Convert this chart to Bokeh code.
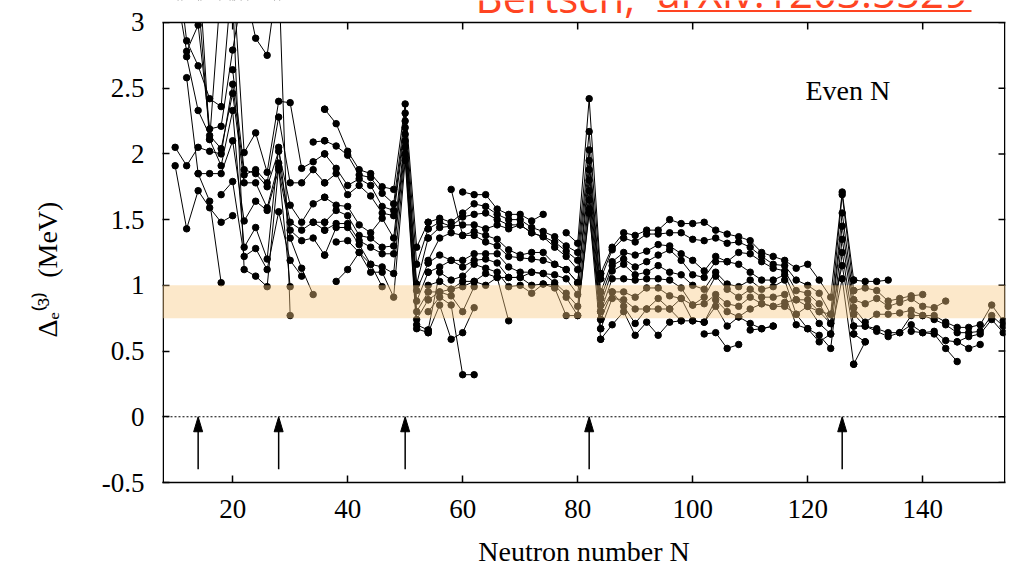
import math
from bokeh.plotting import figure
from bokeh.models import (Range1d, FixedTicker, NumeralTickFormatter,
                          BoxAnnotation, Span, Label, Arrow)
from bokeh.embed import file_html
from bokeh.resources import INLINE

_ = None

# ---------------- data: Delta_e^(3) (MeV) along chains, even N ----------------
# region 1: N = 10 .. 36
r1_n = [10, 12, 14, 16, 18, 20, 22, 24, 26, 28, 30, 32, 34, 36]
r1_a = [3.6, 2.86, 2.67, 2.42, 2.36, 3.4, 2.01, 2.16, 1.86, 2.40, 2.39, 1.89, 1.94, 2.00]
r1_b = [3.3, 2.78, 2.98, 2.19, 2.21, 2.79, 3.3, 2.88, 2.75, 3.4, 0.77, _, _, _]
r1_c = [2.05, 1.91, 2.05, 2.02, 2.00, 2.53, 1.84, 1.88, 1.78, 2.28, 1.78, 1.78, 1.88, 1.78]
r1_d = [1.91, 1.43, 1.72, 1.59, 1.48, 1.53, _, _, _, _, _, _, _, _]
r1_e = [_, 2.74, 2.33, 2.14, 2.04, 2.46, 1.78, 1.78, 1.59, 1.93, 1.48, 1.42, 1.48, 1.42]
r1_f = [_, 2.58, 1.85, 1.85, 1.85, 2.10, 1.49, 1.64, 1.57, 1.88, 1.42, 1.34, 1.36, 1.23]
r1_g = [_, 3.5, 3.2, 2.11, 1.91, 2.33, 1.29, 1.44, 1.20, 2.05, 1.36, 1.13, 0.93, _]
r1_h = [_, _, 1.85, 1.64, 1.02, _, _, _, _, _, _, _, _, _]
r1_i = [_, _, _, _, 1.69, 1.79, 1.22, 1.28, 1.12, 1.56, 1.19, 1.07, _, _]
r1_j = [_, _, _, _, _, 3.2, 1.12, 1.07, 0.99, 1.90, 0.99, _, _, _]
r1_k = [_, _, _, _, _, 2.64, 1.88, 1.85, 1.75, 2.02, 1.61, 1.48, 1.62, 1.67]
r1_l = [_, _, 3.5, 2.11, 3.3, _, _, _, _, _, _, _, _, _]
r1_m = [_, _, _, _, _, _, _, _, _, _, _, _, 2.09, 2.10]
r1_n2 = [_, _, _, _, _, _, _, _, _, _, _, _, _, 2.34]
r1_p = [_, _, _, _, _, _, _, _, _, _, _, _, 1.48, 1.48]

# region 2: N = 36 .. 54
r2_n = [36, 38, 40, 42, 44, 46, 48, 50, 52, 54]
r2_rows = {
    "n": [2.34, 2.23, 2.02, 1.88, 1.85, 1.75, 1.73, 2.38, 1.29, 1.48],
    "m": [2.10, 2.06, 1.99, 1.84, 1.82, 1.70, 1.62, 2.31, 1.16, 1.43],
    "a": [2.00, 1.89, 1.76, 1.81, 1.76, 1.60, 1.57, 2.25, 1.01, 1.36],
    "c": [1.78, 1.85, 1.69, 1.76, 1.68, 1.55, 1.53, 2.20, 0.96, 1.17],
    "k": [1.67, 1.61, 1.60, 1.46, 1.40, 1.51, 1.36, 2.15, 0.88, 1.10],
    "p": [1.48, 1.57, 1.53, 1.38, 1.36, 1.29, 1.30, 2.10, 0.80, 0.95],
    "e": [1.42, 1.47, 1.47, 1.34, 1.29, 1.24, 1.24, 2.05, 0.74, 0.89],
    "f": [1.23, 1.44, 1.44, 1.31, 1.16, 1.14, 1.09, 2.00, 0.70, 0.66],
    "q": [_, 1.33, 1.34, 1.25, 1.10, 1.10, 0.91, 1.95, 0.67, 0.64],
    "r": [_, 1.03, 1.12, 1.25, 1.16, 0.99, _, _, _, _],
}

# region 3: N = 54 .. 84
r3_n = [54, 56, 58, 60, 62, 64, 66, 68, 70, 72, 74, 76, 78, 80, 82, 84]
r3_rows = {
    "y": [_, _, _, 1.71, 1.69, 1.69, 1.58, 1.54, 1.54, 1.49, 1.54, _, _, _, _, _],
    "x": [_, _, 1.73, 1.38, 1.41, 1.38, 1.35, 1.27, 1.23, 1.25, 1.25, 1.16, 1.12, 1.02, 1.88, 0.85],
    "n": [1.48, 1.51, 1.48, 1.55, 1.62, 1.60, 1.54, 1.50, 1.50, 1.44, 1.41, 1.37, 1.30, 1.25, 2.17, 1.05],
    "m": [1.43, 1.48, 1.45, 1.52, 1.54, 1.55, 1.50, 1.46, 1.46, 1.40, 1.37, 1.33, 1.26, 1.19, 2.03, 0.95],
    "a": [1.36, 1.44, 1.45, 1.46, 1.46, 1.43, 1.46, 1.43, 1.46, 1.40, 1.37, 1.29, 1.22, 1.12, 1.95, 0.90],
    "s": [1.19, 1.36, 1.40, 1.38, 1.38, 1.33, 1.30, 1.22, 1.21, 1.20, 1.19, 1.16, 1.12, 1.02, 1.80, 0.80],
    "c": [1.17, 1.23, 1.19, 1.19, 1.24, 1.24, 1.24, 1.14, 1.10, 1.10, 1.09, 1.08, 1.05, 0.93, 1.72, 0.74],
    "k": [1.10, 1.14, 1.19, 1.14, 1.19, 1.20, 1.17, 1.06, 1.06, 1.10, 1.09, 1.02, 0.94, 0.84, 1.65, 0.67],
    "f": [0.66, 1.10, 1.04, 1.07, 1.16, 1.13, 1.10, 0.99, 1.00, 0.94, 1.01, 1.00, 0.91, 0.77, 1.58, 0.59],
    "t": [1.00, 1.03, 0.97, 0.99, 1.03, 1.09, 1.06, 1.06, 1.06, 1.00, 1.01, 0.98, 0.77, 0.77, 1.55, 0.80],
    "e": [0.89, 0.95, 0.97, 1.03, 1.03, 1.00, 1.06, 0.73, _, _, _, _, _, _, _, _],
    "p": [0.95, 0.95, 0.92, 0.80, 0.99, _, _, _, _, _, _, _, _, _, _, _],
    "q": [0.64, 0.85, 0.59, 0.64, 0.83, _, _, _, _, _, _, _, _, _, _, _],
    "u": [0.80, 0.91, 0.85, 0.32, 0.32, _, _, _, _, _, _, _, _, _, _, _],
    "aa": [_, _, _, _, _, _, _, _, _, _, _, _, 1.40, 1.32, 2.42, 1.09],
}

# region 4: N = 84 .. 128
r4_n = [84, 86, 88, 90, 92, 94, 96, 98, 100, 102, 104, 106, 108, 110, 112, 114,
        116, 118, 120, 122, 124, 126, 128]
r4_rows = {
    "aa": [1.09, 1.29, 1.40, 1.38, 1.42, 1.42, 1.50, 1.47, 1.47, 1.48, 1.42, 1.39, 1.37, 1.34, 1.25, 1.22, 1.19, 1.13, 1.16, 1.04, 0.91, 1.71, 1.04],
    "n": [1.05, 1.27, 1.36, 1.33, 1.39, 1.39, 1.40, 1.40, 1.35, 1.34, 1.36, 1.32, 1.33, 1.29, 1.22, 1.16, 1.15, 1.04, 1.00, 0.94, 0.78, 1.69, 0.96],
    "m": [0.95, 1.18, 1.25, 1.23, 1.26, 1.31, 1.30, 1.24, 1.19, 1.11, 1.22, 1.18, 1.25, 1.24, 1.18, 1.13, 1.11, 0.96, 0.94, 0.86, 0.71, 1.55, 0.89],
    "a": [0.90, 1.15, 1.20, 1.14, 1.18, 1.23, 1.27, 1.19, 1.08, 1.06, 1.18, 1.18, 1.16, 1.10, 1.04, 1.04, 1.08, 0.89, 0.89, 0.80, 0.71, 1.45, 0.83],
    "x": [0.85, 1.11, 1.16, 1.08, 1.10, 1.15, 1.10, 1.08, 1.00, 0.97, 1.10, 1.01, 0.99, 1.04, 0.97, 0.99, 1.04, 0.78, 0.84, 0.71, 0.63, 1.35, 0.78],
    "s": [0.80, 1.05, 1.05, 1.04, 1.05, 1.05, 1.04, 0.98, 0.85, 0.91, 1.07, 0.97, 0.91, 0.97, 0.91, 0.91, 0.93, 0.70, 0.67, 0.62, 0.52, 1.25, 0.69],
    "c": [0.74, 0.95, 0.95, 0.91, 0.98, 0.98, 0.92, 0.90, 0.85, 0.86, 0.93, 0.86, 0.84, 0.91, 0.86, 0.84, 0.87, 0.89, 0.84, 0.80, 0.78, 1.15, 0.63],
    "k": [0.67, 0.90, 0.89, 0.82, 0.82, 0.90, 0.82, 0.90, 0.73, 0.72, 0.89, 0.80, 0.76, 0.82, 0.86, 0.84, 0.84, 0.78, 0.67, 0.57, 0.63, 1.05, 0.40],
    "f": [0.59, 0.70, 0.80, 0.62, 0.72, 0.62, 0.72, 0.73, _, _, _, _, _, _, _, _, _, _, _, _, _, _, _],
    "t": [0.80, 0.95, 0.84, 0.71, 0.82, 0.82, 0.82, 0.73, 0.73, 0.72, 0.84, 0.69, 0.76, 0.71, 0.67, 0.69, _, _, _, _, _, _, _],
    "bb": [_, _, _, _, _, _, _, _, _, 0.63, 0.64, 0.52, 0.55, _, _, _, _, _, _, _, _, _, _],
    "dd": [_, _, _, _, _, _, _, _, _, _, _, _, _, 0.66, 0.67, 0.69, _, _, _, _, _, _, _],
}

# region 5: N = 128 .. 154
r5_n = [128, 130, 132, 134, 136, 138, 140, 142, 144, 146, 148, 150, 152, 154]
r5_rows = {
    "aa": [1.04, 1.03, 1.03, 1.04, _, _, _, _, _, _, _, _, _, _],
    "n": [0.96, 0.98, 0.96, 0.88, 0.90, 0.92, 0.93, _, _, _, _, _, _, _],
    "m": [0.89, 0.86, 0.90, 0.84, 0.87, 0.90, 0.84, 0.83, 0.88, _, _, _, _, _],
    "a": [0.83, 0.72, 0.78, 0.78, 0.79, 0.81, 0.77, 0.77, 0.72, 0.68, 0.68, 0.70, 0.85, 0.73],
    "x": [0.78, 0.69, 0.67, 0.64, 0.64, 0.77, 0.77, 0.74, 0.70, 0.64, 0.64, 0.65, 0.77, 0.69],
    "s": [0.69, 0.69, 0.65, 0.61, 0.64, 0.70, 0.64, 0.65, 0.58, 0.57, 0.61, 0.63, 0.74, 0.64],
    "c": [0.63, 0.57, _, _, _, _, _, _, _, _, _, _, _, _],
    "k": [0.40, 0.57, _, _, _, _, _, _, _, _, _, _, _, _],
    "gg": [_, _, _, _, _, 0.65, 0.64, 0.63, 0.52, 0.42, _, _, _, _],
    "hh": [_, _, _, _, _, _, _, _, _, 0.57, 0.52, 0.55, _, _],
}

# magic numbers (arrows) and the shaded band
magic_n = [14, 28, 50, 82, 126]
arrow_from = -0.4
arrow_to = 0.0
band_low, band_high = 0.75, 1.0

x_ticks = [20, 40, 60, 80, 100, 120, 140]
y_ticks = [-0.5, 0, 0.5, 1, 1.5, 2, 2.5, 3]
X0, X1 = 7.8, 154.4
Y0, Y1 = -0.5, 3.0

SERIF = "Liberation Serif"
RED = "#FF4422"
FL, FB = 162, 483          # frame left / bottom in page px
PX_Y = 131.7               # px per MeV
PX_X = 5.75                # px per unit of N
# the frame reaches the page top so the caption can sit above the y = 3 border
Y_TOP = Y1 + 22 / PX_Y

p = figure(width=1011, height=569, output_backend="svg", toolbar_location=None,
           x_range=Range1d(X0, X1), y_range=Range1d(Y0, Y_TOP),
           min_border_left=FL, min_border_right=6, min_border_top=0,
           min_border_bottom=569 - FB)
p.xgrid.visible = False
p.ygrid.visible = False
p.background_fill_color = "white"
p.border_fill_color = "white"
p.outline_line_color = None

for ax, ticks in ((p.xaxis[0], x_ticks), (p.yaxis[0], y_ticks)):
    ax.ticker = FixedTicker(ticks=ticks)
    ax.major_tick_in = 7
    ax.major_tick_out = 0
    ax.minor_tick_in = 0
    ax.minor_tick_out = 0
    ax.axis_line_color = "black"
    ax.axis_line_width = 1.5
    ax.major_tick_line_color = "black"
    ax.major_tick_line_width = 1.5
    ax.major_label_text_font = SERIF
    ax.major_label_text_font_size = "27px"
    ax.major_label_text_color = "black"
    ax.axis_label_text_font = SERIF
    ax.axis_label_text_font_size = "28px"
    ax.axis_label_text_font_style = "normal"
    ax.axis_label_text_color = "black"

p.xaxis[0].major_label_standoff = 17
p.xaxis[0].axis_label = "Neutron number N"
p.xaxis[0].axis_label_standoff = 15
p.yaxis[0].axis_line_color = None          # left border drawn below (stops at y = 3)
p.yaxis[0].major_label_standoff = 18
p.yaxis[0].formatter = NumeralTickFormatter(format="0.[0]")
p.yaxis[0].axis_label = "\u0394\u2091\u207d\u00b3\u207e\u00a0\u00a0(MeV)" + "\u00a0" * 8
p.yaxis[0].axis_label_standoff = 36

# left / right borders and mirrored inward ticks on the top and right edges
inset = 0.75 / PX_X
p.segment(x0=[X0 + inset, X1 - inset], y0=[Y0, Y0], x1=[X0 + inset, X1 - inset], y1=[Y1, Y1],
          line_color="black", line_width=1.5)
tick_dy = 7 / PX_Y
tick_dx = 7 / PX_X
p.segment(x0=x_ticks, y0=[Y1] * len(x_ticks), x1=x_ticks, y1=[Y1 - tick_dy] * len(x_ticks),
          line_color="black", line_width=1.5)
p.segment(x0=[X1] * len(y_ticks), y0=y_ticks, x1=[X1 - tick_dx] * len(y_ticks), y1=y_ticks,
          line_color="black", line_width=1.5)

# chains
regions = [
    (r1_n, [r1_a, r1_b, r1_c, r1_d, r1_e, r1_f, r1_g, r1_h, r1_i, r1_j, r1_k, r1_l, r1_m, r1_n2, r1_p]),
    (r2_n, list(r2_rows.values())),
    (r3_n, list(r3_rows.values())),
    (r4_n, list(r4_rows.values())),
    (r5_n, list(r5_rows.values())),
]
nan = float("nan")
for ns, rows in regions:
    for row in rows:
        ys = [nan if v is None else v for v in row]
        p.line(ns, ys, line_color="black", line_width=1)
        p.scatter(ns, ys, size=6.5, fill_color="black", line_color="black")

# zero line
p.add_layout(Span(location=0, dimension="width", line_color="black",
                  line_dash="2 2", line_width=1))

# arrows at magic numbers
head_len = 0.114   # data units (~15 px)
head_half = 0.78   # data units (~4.5 px)
p.segment(x0=magic_n, y0=[arrow_from] * len(magic_n), x1=magic_n,
          y1=[arrow_to - head_len * 0.5] * len(magic_n), line_color="black", line_width=1.5)
p.patches(xs=[[m - head_half, m, m + head_half] for m in magic_n],
          ys=[[arrow_to - head_len, arrow_to, arrow_to - head_len] for m in magic_n],
          fill_color="black", line_color="black", line_width=1)

# shaded band (drawn over the data)
p.add_layout(BoxAnnotation(bottom=band_low, top=band_high, fill_color="#F8C880",
                           fill_alpha=0.42, line_alpha=0))

# white strip above the plot box hides the chains that leave through the top
p.add_layout(BoxAnnotation(bottom=Y1, top=Y_TOP + 0.5, fill_color="white", fill_alpha=1.0,
                           line_alpha=0))
p.add_layout(Span(location=Y1, dimension="width", line_color="black", line_width=1.5))


def slabel(cx, cy_bottom, text, size, font=SERIF, color="black"):
    # cy_bottom: page y of the bottom of the text box (baseline + descent)
    return Label(x=cx - FL, y=FB - cy_bottom, x_units="screen", y_units="screen", text=text,
                 text_align="left", text_baseline="bottom", text_font=font,
                 text_font_size=f"{size}px", text_color=color)


p.add_layout(slabel(805, 100 + 0.216 * 28, "Even N", 28))

# caption, cut off by the page top as in the original slide
cap = 42
p.add_layout(slabel(475, 13.3 + 0.293 * cap, "Bertsch,", cap, font="Open Sans", color=RED))
p.add_layout(slabel(657, 8.5 + 0.293 * cap, "arXiv:1203.5529", cap, font="Open Sans", color=RED))
p.add_layout(Arrow(x_start=657 - FL, y_start=FB - 11.5, x_end=971 - FL, y_end=FB - 11.5,
                   start_units="screen", end_units="screen", start=None, end=None,
                   line_color=RED, line_width=2))

open("out.html", "w").write(file_html(p, INLINE))
